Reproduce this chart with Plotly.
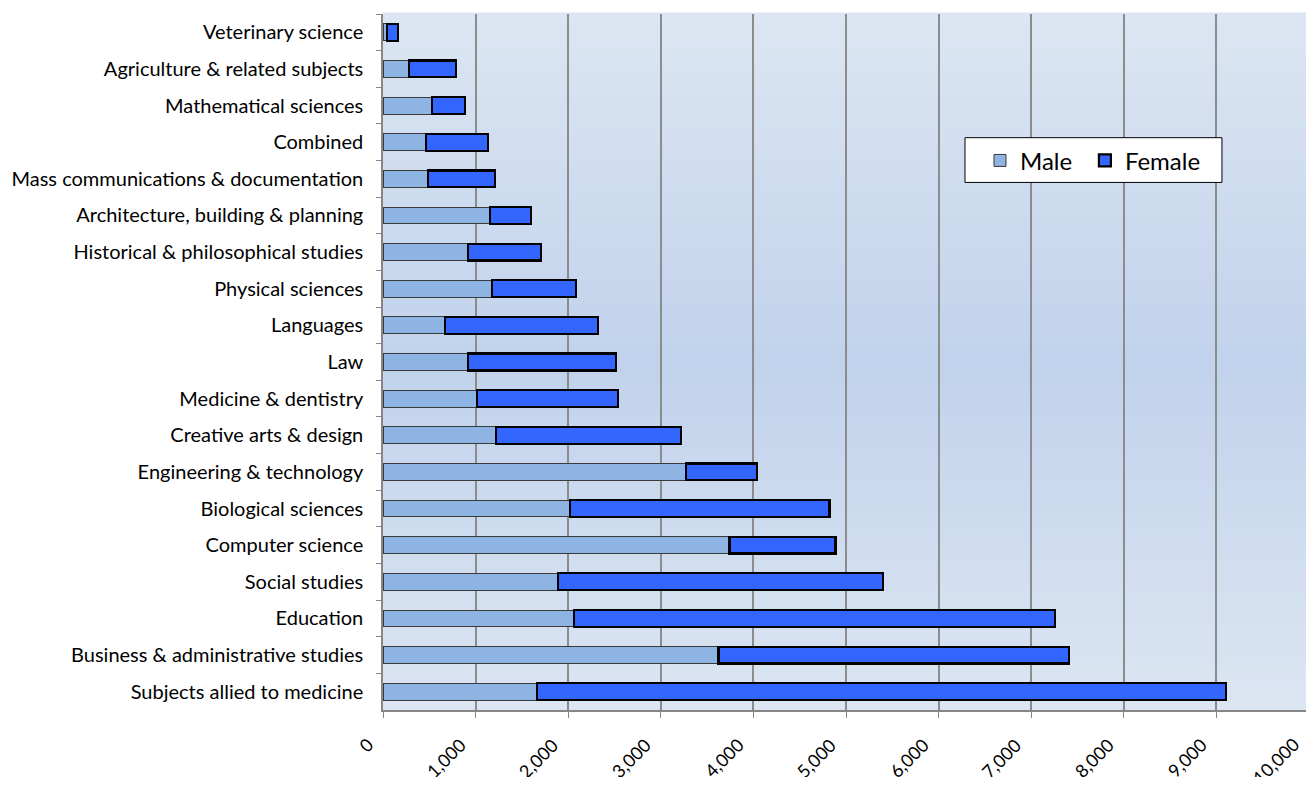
import plotly.graph_objects as go

# Categories, top to bottom as in the chart
SUBJECTS = [
    'Veterinary science',
    'Agriculture & related subjects',
    'Mathematical sciences',
    'Combined',
    'Mass communications & documentation',
    'Architecture, building & planning',
    'Historical & philosophical studies',
    'Physical sciences',
    'Languages',
    'Law',
    'Medicine & dentistry',
    'Creative arts & design',
    'Engineering & technology',
    'Biological sciences',
    'Computer science',
    'Social studies',
    'Education',
    'Business & administrative studies',
    'Subjects allied to medicine',
]

MALE = [45, 285, 532, 461, 490, 1159, 921, 1181, 673, 921,
        1015, 1224, 3272, 2020, 3741, 1887, 2062, 3624, 1666]
FEMALE = [120, 505, 350, 669, 716, 436, 782, 903, 1652, 1599,
          1526, 1994, 767, 2801, 1145, 3513, 5192, 3787, 7436]

X_TICKS = list(range(0, 10001, 1000))
X_LABELS = ['{:,}'.format(v) for v in X_TICKS]

MALE_COLOR = '#8EB4E3'
FEMALE_COLOR = '#3366FF'
FONT = 'Lato, Open Sans, sans-serif'

fig = go.Figure()
fig.add_trace(go.Bar(
    y=SUBJECTS, x=MALE, orientation='h', name='Male',
    legend='legend', showlegend=True,
    marker=dict(color=MALE_COLOR, line=dict(color='#3a3a3a', width=1))
))
fig.add_trace(go.Bar(
    y=SUBJECTS, x=FEMALE, orientation='h', name='Female',
    legend='legend2', showlegend=True,
    marker=dict(color=FEMALE_COLOR, line=dict(color='black', width=2.2))
))

# vertical gradient background (light - darker in the middle - light)
top = (220, 230, 242)
mid = (193, 210, 236)
n = 60
for i in range(n):
    t = (i + 0.5) / n
    k = 1 - abs(t - 0.5) * 2
    c = tuple(int(round(top[j] + (mid[j] - top[j]) * k)) for j in range(3))
    fig.add_shape(
        type='rect', xref='x domain', yref='y domain', layer='below',
        x0=0, x1=1, y0=i / n, y1=(i + 1) / n + 0.002,
        fillcolor='rgb(%d,%d,%d)' % c, line_width=0
    )

# white legend box
fig.add_shape(
    type='rect', xref='x domain', yref='y domain', layer='above',
    x0=0.6285, x1=0.906, y0=0.758, y1=0.8223,
    fillcolor='white', line=dict(color='black', width=1)
)

# rotated x tick labels, anchored by their top-right corner at the tick
for v, lab in zip(X_TICKS, X_LABELS):
    fig.add_annotation(
        x=v, y=0, xref='x', yref='paper', text=lab, showarrow=False,
        textangle=-45, xanchor='right', yanchor='top',
        xshift=-3, yshift=-21, font=dict(size=18, color='black')
    )

legend_style = dict(
    orientation='h', yanchor='middle', xanchor='left', y=0.789,
    bgcolor='rgba(0,0,0,0)', borderwidth=0, font=dict(size=24),
    itemwidth=30, visible=True
)

# the page body adds an 8px margin, so the figure is a bit smaller
fig.update_layout(
    barmode='stack', bargap=0.54,
    width=1306, height=769, showlegend=True,
    margin=dict(l=375, r=5, t=6, b=67),
    paper_bgcolor='white', plot_bgcolor='#D0DCEE',
    font=dict(family=FONT, size=20, color='black'),
    legend=dict(legend_style, x=0.6447),
    legend2=dict(legend_style, x=0.758),
)
fig.update_xaxes(
    range=[0, 10000.1], tickvals=X_TICKS, showticklabels=False,
    ticks='outside', ticklen=6, tickcolor='#868686',
    showgrid=True, gridcolor='#8c8c8c', gridwidth=1.5,
    showline=True, linecolor='#868686', linewidth=1.5,
    zeroline=False, automargin=False
)
fig.update_yaxes(
    autorange='reversed', ticks='outside', ticklen=5, tickcolor='#868686',
    tickson='boundaries', showgrid=False,
    showline=True, linecolor='#868686', linewidth=1.5,
    ticklabelstandoff=14, tickfont=dict(size=20), automargin=False
)

fig.write_html('out.html')
